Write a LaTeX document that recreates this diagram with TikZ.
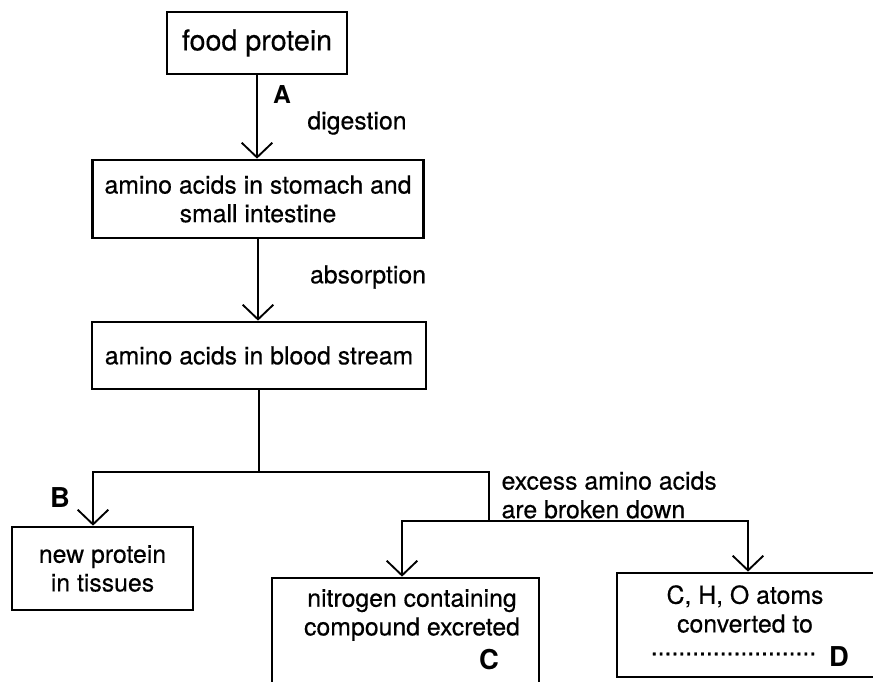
\documentclass[tikz,border=0pt]{standalone}
\usepackage{fontspec}
\setmainfont{TeX Gyre Heros}[UprightFeatures={FakeBold=0.4}]
\usetikzlibrary{positioning,arrows.meta}

\begin{document}
\begin{tikzpicture}[x=0.75pt,y=-0.75pt,>={Straight Barb[length=11pt,width=23pt]},
    box/.style={draw,line width=2pt,inner sep=0pt,align=center,font=\fontsize{18.6}{21.5}\selectfont},
    flow/.style={line width=1.4pt},
    lbl/.style={align=left,inner sep=1pt,font=\fontsize{18.6}{21.5}\selectfont},
    letter/.style={font=\bfseries\fontsize{20.5}{22}\selectfont}]
    \useasboundingbox (0,0) rectangle (873,681);
    \clip (0,0) rectangle (873,681);
    \node[box,minimum width=135pt,minimum height=46.5pt,font=\fontsize{21.5}{24}\selectfont] (food) at (257,43) {food protein};
    \node[box,minimum width=248.25pt,minimum height=58.5pt] (stomach) at (258,199) {amino acids in stomach and\\small intestine};
    \node[box,minimum width=250.5pt,minimum height=50.25pt] (blood) at (259,355.5) {amino acids in blood stream};
    \node[box,minimum width=135.75pt,minimum height=62.25pt] (tissues) at (102.5,568.5) {new protein\\in tissues};
    \node[box,minimum width=200.25pt,minimum height=106.5pt] (nbox) at (405.5,649) {};
    \node[box,minimum width=201pt,minimum height=78pt] (dbox) at (751,625) {};
    \node[lbl,align=center] (ntext) at (412,615) {nitrogen containing\\compound excreted};
    \node[lbl,align=center] (dtext) at (745,609) {C, H, O atoms\\converted to};
    \node[lbl] (dots) at (733.5,654) {........................};
    \node[letter,font=\bfseries\fontsize{18.5}{22}\selectfont] (A) at (282,95) {A};
    \node[letter] (B) at (60,498) {B};
    \node[letter] (C) at (489,660) {C};
    \node[letter] (D) at (839,657) {D};
    \node[lbl] (dig) at (357,123) {digestion};
    \node[lbl] (abs) at (368,277) {absorption};
    \node[lbl,anchor=west] (excess) at (500,495) {excess amino acids\\are broken down};
    \coordinate (fork) at (259,472);
    \coordinate (left) at (93,472);
    \coordinate (right) at (489,472);
    \coordinate (drop) at (489,521);
    \coordinate (cleft) at (402,521);
    \coordinate (cright) at (748,521);
    \draw[flow,->] (food.south) -- (food.south |- stomach.north);
    \draw[flow,->] (stomach.south) -- (stomach.south |- blood.north);
    \draw[flow] (blood.south) -- (fork);
    \draw[flow,->] (fork) -| (left |- tissues.north);
    \draw[flow] (fork) -- (right) -- (drop);
    \draw[flow,->] (drop) -| (cleft |- nbox.north);
    \draw[flow,->] (drop) -| (cright |- dbox.north);
\end{tikzpicture}
\end{document}
